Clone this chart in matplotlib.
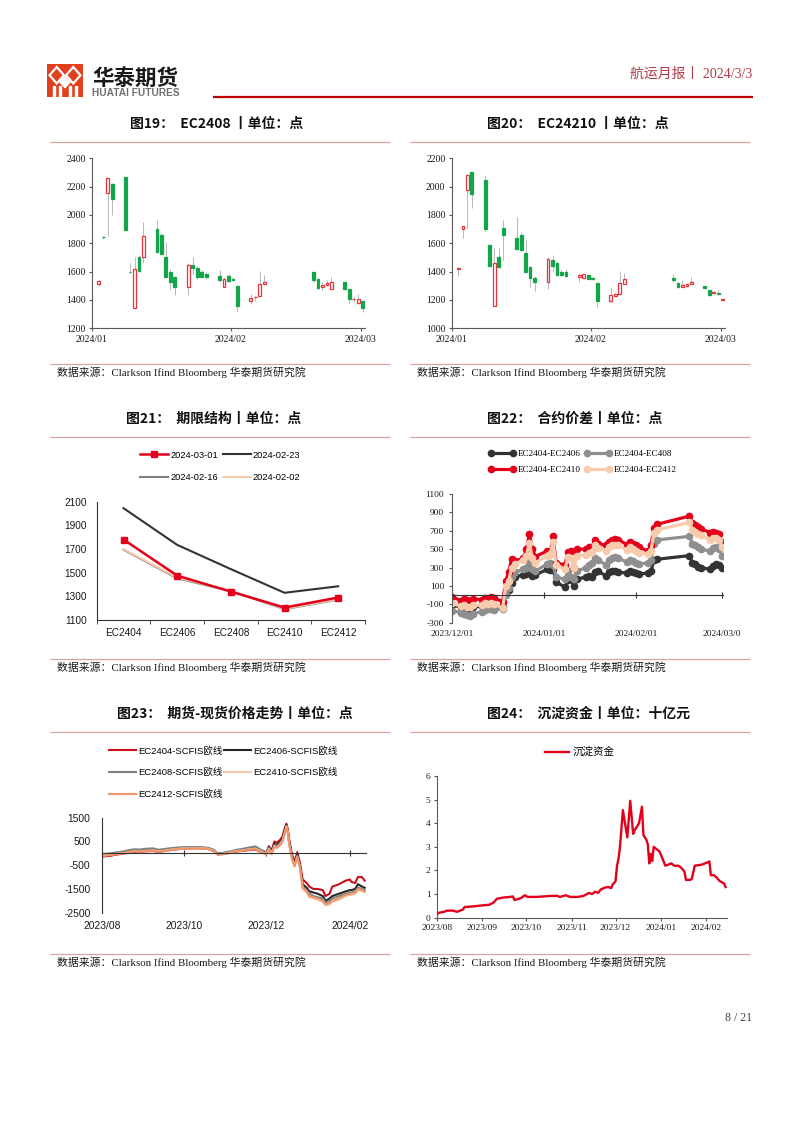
import matplotlib
matplotlib.use('Agg')
import matplotlib.pyplot as plt
import matplotlib.dates as mdates
import numpy as np
import pandas as pd
from matplotlib.patches import Rectangle, Polygon
from matplotlib.lines import Line2D

plt.rcParams['axes.unicode_minus'] = False

# ---------------- DATA ----------------
candle_dates = ['2024-01-02','2024-01-03','2024-01-04','2024-01-05','2024-01-08','2024-01-09','2024-01-10',
                '2024-01-11','2024-01-12','2024-01-15','2024-01-16','2024-01-17','2024-01-18','2024-01-19',
                '2024-01-22','2024-01-23','2024-01-24','2024-01-25','2024-01-26','2024-01-29','2024-01-30',
                '2024-01-31','2024-02-01','2024-02-02','2024-02-05','2024-02-06','2024-02-07','2024-02-08',
                '2024-02-19','2024-02-20','2024-02-21','2024-02-22','2024-02-23','2024-02-26','2024-02-27',
                '2024-02-28','2024-02-29','2024-03-01']
candle_months = ['2024-01-01', '2024-02-01', '2024-03-01']
candle_month_labels = ['2024/01', '2024/02', '2024/03']

ec2408_open = [1510,1847,2155,2220,2265,1600,1345,1705,1700,1900,1858,1700,1595,1560,1490,1645,1628,1600,1585,
               1572,1495,1572,1550,1500,1390,1420,1430,1512,1595,1546,1495,1505,1478,1525,1475,1405,1378,1393]
ec2408_high = [1540,1852,2265,2225,2270,1660,1706,1715,1953,1965,1870,1812,1620,1565,1660,1701,1640,1610,1600,
               1612,1560,1580,1555,1505,1440,1430,1605,1576,1600,1550,1530,1540,1560,1535,1480,1420,1440,1398]
ec2408_low = [1500,1830,1855,2000,1890,1590,1340,1600,1660,1735,1720,1560,1471,1435,1435,1580,1550,1555,1550,
              1530,1490,1530,1535,1318,1370,1390,1425,1505,1530,1480,1470,1500,1475,1470,1370,1385,1370,1318]
ec2408_close = [1535,1843,2258,2115,1895,1595,1616,1608,1850,1737,1722,1565,1530,1495,1648,1625,1560,1565,1562,
                1540,1545,1535,1540,1355,1412,1424,1512,1528,1542,1487,1508,1522,1530,1476,1405,1410,1405,1342]

ec2410_open = [1420,1700,1978,2100,2050,1585,1160,1505,1705,1640,1660,1535,1435,1352,1330,1482,1460,1400,1396,
               1360,1355,1378,1355,1318,1190,1230,1245,1315,1355,1322,1293,1300,1313,1298,1270,1248,1246,1198]
ec2410_high = [1430,1725,2090,2105,2080,1590,1565,1565,1765,1784,1680,1620,1440,1370,1500,1518,1465,1410,1420,
               1390,1385,1385,1360,1320,1294,1250,1405,1388,1385,1325,1340,1320,1360,1300,1272,1258,1270,1206]
ec2410_low = [1370,1640,1706,1847,1680,1435,1155,1425,1480,1555,1545,1395,1294,1260,1280,1400,1370,1370,1360,
              1330,1350,1345,1340,1153,1185,1225,1240,1310,1330,1285,1290,1295,1310,1278,1228,1245,1238,1195]
ec2410_close = [1425,1720,2082,1950,1700,1440,1463,1432,1660,1560,1550,1400,1355,1330,1487,1440,1378,1378,1366,
                1375,1380,1350,1347,1195,1235,1245,1318,1345,1338,1290,1308,1315,1328,1282,1232,1255,1241,1204]

term_contracts = ['EC2404', 'EC2406', 'EC2408', 'EC2410', 'EC2412']
term_0301 = [1780, 1475, 1340, 1205, 1290]
term_0223 = [2045, 1735, 1530, 1330, 1385]
term_0216 = [1695, 1452, 1345, 1192, 1272]
term_0202 = [1700, 1458, 1350, 1195, 1276]

spread_dates = ['2023-12-01','2023-12-04','2023-12-05','2023-12-06','2023-12-07','2023-12-08','2023-12-11',
                '2023-12-12','2023-12-13','2023-12-14','2023-12-15','2023-12-18','2023-12-19','2023-12-20',
                '2023-12-21','2023-12-22','2023-12-25','2023-12-26','2023-12-27','2023-12-28','2023-12-29',
                '2024-01-02','2024-01-03','2024-01-04','2024-01-05','2024-01-08','2024-01-09','2024-01-10',
                '2024-01-11','2024-01-12','2024-01-15','2024-01-16','2024-01-17','2024-01-18','2024-01-19',
                '2024-01-22','2024-01-23','2024-01-24','2024-01-25','2024-01-26','2024-01-29','2024-01-30',
                '2024-01-31','2024-02-01','2024-02-02','2024-02-05','2024-02-06','2024-02-07','2024-02-08',
                '2024-02-19','2024-02-20','2024-02-21','2024-02-22','2024-02-23','2024-02-26','2024-02-27',
                '2024-02-28','2024-02-29','2024-03-01']
spread_2406 = [-110,-130,-120,-140,-150,-130,-120,-110,-120,-100,-110,-130,20,60,130,200,220,230,300,210,220,
               280,270,280,140,90,160,170,100,170,200,210,200,250,260,210,250,260,260,250,240,260,250,
               240,230,240,260,380,390,430,350,340,310,300,280,320,340,330,300]
spread_2408 = [-170,-190,-200,-220,-230,-200,-180,-160,-150,-150,-160,-150,0,80,200,250,280,300,390,280,260,
               340,350,330,200,170,260,200,170,260,300,330,350,400,380,330,380,400,410,400,360,380,370,
               350,340,350,380,560,600,640,560,540,520,500,480,510,520,500,430]
spread_2410 = [-20,-60,-40,-50,-70,-40,-50,-30,-40,-20,-30,-70,150,250,390,370,400,500,670,500,420,
               480,450,640,350,330,470,480,300,500,500,520,510,600,560,540,580,600,610,600,550,580,560,
               540,520,480,540,730,770,860,780,760,740,720,680,690,680,660,580]
spread_2412 = [-90,-120,-110,-130,-130,-110,-110,-90,-100,-90,-100,-140,100,150,300,340,380,430,570,400,350,
               430,450,580,330,280,420,400,290,430,440,460,470,540,510,480,520,540,550,540,490,520,500,
               480,460,450,480,680,710,790,710,690,670,650,600,620,620,600,520]
spread_ticks = ['2023-12-01', '2024-01-01', '2024-02-01', '2024-03-01']
spread_tick_labels = ['2023/12/01', '2024/01/01', '2024/02/01', '2024/03/0']

basis_dates = ['2023-08-01','2023-08-04','2023-08-08','2023-08-11','2023-08-15','2023-08-18','2023-08-22',
               '2023-08-25','2023-08-29','2023-09-01','2023-09-05','2023-09-08','2023-09-12','2023-09-15',
               '2023-09-19','2023-09-22','2023-09-26','2023-09-28','2023-10-09','2023-10-12','2023-10-16',
               '2023-10-19','2023-10-23','2023-10-26','2023-10-30','2023-11-02','2023-11-06','2023-11-09',
               '2023-11-13','2023-11-16','2023-11-20','2023-11-23','2023-11-27','2023-11-30','2023-12-01',
               '2023-12-03','2023-12-05','2023-12-07','2023-12-09','2023-12-11','2023-12-13','2023-12-15',
               '2023-12-16','2023-12-17','2023-12-18','2023-12-20','2023-12-22','2023-12-24','2023-12-26',
               '2023-12-28','2023-12-31','2024-01-02','2024-01-05','2024-01-08','2024-01-12','2024-01-14',
               '2024-01-17','2024-01-19','2024-01-24','2024-01-29','2024-02-01','2024-02-02','2024-02-05',
               '2024-02-07','2024-02-10','2024-02-12']
basis_2404 = [-150,-120,-100,-60,-30,0,30,50,60,
              80,90,100,60,80,120,150,170,190,
              200,210,200,180,100,-50,-30,
              0,30,80,100,120,150,160,60,20,
              0,300,100,500,450,550,700,1100,1250,1000,600,0,-400,50,-400,-1100,-1250,
              -1400,-1500,-1500,-1550,-1800,-1700,-1400,-1300,-1150,
              -1100,-1200,-1250,-1000,-1000,-1150]
basis_2406 = [-100,-60,-40,0,30,60,100,130,120,
              140,150,170,110,130,160,190,210,230,
              240,240,230,210,130,-20,0,
              30,70,120,150,180,220,240,120,50,
              20,250,50,400,350,450,600,1000,1200,950,500,-100,-450,-50,-500,-1300,-1450,
              -1600,-1650,-1700,-1800,-2000,-1900,-1800,-1700,-1600,
              -1550,-1550,-1500,-1300,-1400,-1450]
basis_2408 = [-50,-20,0,30,60,90,140,170,160,
              180,200,210,150,170,200,220,240,250,
              260,260,250,230,150,0,20,
              60,100,150,180,220,260,290,150,80,
              40,230,30,350,300,400,550,950,1100,900,450,-150,-500,-100,-550,-1400,-1550,
              -1700,-1800,-1850,-1900,-2100,-2000,-1900,-1800,-1700,
              -1650,-1650,-1600,-1450,-1500,-1550]
basis_2410 = [-100,-80,-60,-30,0,20,60,90,80,
              100,120,130,80,100,130,160,180,200,
              210,220,210,190,110,-40,-20,
              10,50,100,120,150,180,200,80,0,
              -30,180,-20,300,250,350,500,900,1150,900,420,-200,-550,-150,-600,-1500,-1650,
              -1850,-1900,-1950,-2050,-2200,-2150,-2050,-1950,-1800,
              -1750,-1750,-1700,-1550,-1600,-1650]
basis_2412 = [-120,-90,-70,-40,-10,10,50,80,70,
              90,100,120,70,90,120,150,170,190,
              200,210,200,180,100,-50,-30,
              0,40,90,110,140,170,190,60,-20,
              -50,160,-40,280,230,330,480,880,1100,880,400,-200,-550,-150,-600,-1450,-1600,
              -1800,-1850,-1900,-2000,-2150,-2100,-2000,-1900,-1750,
              -1700,-1700,-1650,-1500,-1550,-1600]
basis_ticks = ['2023-08-01', '2023-10-01', '2023-12-01', '2024-02-01']
basis_tick_labels = ['2023/08', '2023/10', '2023/12', '2024/02']

fund_dates = ['2023-08-01','2023-08-02','2023-08-06','2023-08-08','2023-08-12','2023-08-15','2023-08-17',
              '2023-08-19','2023-08-20','2023-08-26','2023-08-29','2023-09-01','2023-09-06','2023-09-09',
              '2023-09-11','2023-09-15','2023-09-20','2023-09-22','2023-09-23','2023-09-26','2023-09-28',
              '2023-09-30','2023-10-02','2023-10-08','2023-10-13','2023-10-17','2023-10-22','2023-10-24',
              '2023-10-28','2023-10-31','2023-11-05','2023-11-09','2023-11-13','2023-11-15','2023-11-17',
              '2023-11-19','2023-11-21','2023-11-24','2023-11-26','2023-11-28','2023-11-29','2023-12-01',
              '2023-12-02','2023-12-03','2023-12-04','2023-12-06','2023-12-09','2023-12-11','2023-12-13',
              '2023-12-14','2023-12-17','2023-12-19','2023-12-20','2023-12-22','2023-12-23','2023-12-24',
              '2023-12-25','2023-12-26','2023-12-27','2023-12-29','2023-12-31','2024-01-02','2024-01-04',
              '2024-01-08','2024-01-10','2024-01-13','2024-01-15','2024-01-17','2024-01-18','2024-01-21',
              '2024-01-22','2024-01-24','2024-01-29','2024-02-02','2024-02-03','2024-02-04','2024-02-06',
              '2024-02-08','2024-02-10','2024-02-13','2024-02-14']
fund_values = [0.10,0.20,0.25,0.30,0.30,0.25,0.30,0.35,0.45,0.48,0.50,0.52,0.55,0.65,0.80,0.85,0.88,0.90,0.75,
               0.80,0.85,0.95,0.88,0.88,0.90,0.92,0.93,0.88,0.95,0.88,0.88,0.92,1.05,1.00,1.10,1.05,1.20,1.28,
               1.30,1.25,1.40,1.55,2.20,2.50,3.00,4.55,3.40,4.95,3.55,3.70,4.00,4.70,3.50,3.30,3.10,2.30,2.70,
               2.40,3.00,2.90,2.80,2.50,2.20,2.30,2.20,2.20,2.10,1.95,1.60,1.60,1.65,2.20,2.25,2.35,2.38,1.80,
               1.80,1.70,1.55,1.45,1.30]
fund_ticks = ['2023-08-01','2023-09-01','2023-10-01','2023-11-01','2023-12-01','2024-01-01','2024-02-01']
fund_tick_labels = ['2023/08','2023/09','2023/10','2023/11','2023/12','2024/01','2024/02']

titles = ['图19：  EC2408 丨单位：点', '图20：  EC24210 丨单位：点', '图21：  期限结构丨单位：点',
          '图22：  合约价差丨单位：点', '图23：  期货-现货价格走势丨单位：点', '图24：  沉淀资金丨单位：十亿元']
source_text = '数据来源：Clarkson Ifind Bloomberg 华泰期货研究院'

# ---------------- FIGURE ----------------
W, H = 802, 1133
fig = plt.figure(figsize=(W / 100, H / 100), dpi=100)
fig.patch.set_facecolor('white')

SERIF = ['Liberation Serif', 'Noto Sans CJK SC']
SANS = ['Liberation Sans', 'Noto Sans CJK SC']
CJK = ['Noto Sans CJK SC', 'DejaVu Sans']
RED_C = '#e8323c'
GREEN_C = '#13a54a'
AX_C = '#595959'


def fy(y):
    return 1 - y / H


def axes_px(x0, y0, x1, y1):
    return fig.add_axes([x0 / W, 1 - y1 / H, (x1 - x0) / W, (y1 - y0) / H])


def hline(x0, x1, y, color, lw):
    fig.add_artist(Line2D([x0 / W, x1 / W], [fy(y), fy(y)], color=color, lw=lw, solid_capstyle='butt'))


def base_style(ax):
    for s in ['top', 'right']:
        ax.spines[s].set_visible(False)
    for s in ['left', 'bottom']:
        ax.spines[s].set_color(AX_C)
        ax.spines[s].set_linewidth(0.8)
    ax.tick_params(color=AX_C, width=0.8, labelcolor='#1a1a1a')
    ax.set_facecolor('none')


def to_num(dates):
    return mdates.date2num(pd.to_datetime(dates))


# ---------------- HEADER ----------------
logo = fig.add_axes([47 / W, fy(97), 36 / W, 33 / H])
logo.set_xlim(0, 1)
logo.set_ylim(0, 1)
logo.axis('off')
logo.add_patch(Rectangle((0, 0), 1, 1, color='#e2401c'))
for cx, cy in [(0.27, 0.66), (0.73, 0.66)]:
    logo.add_patch(Polygon([[cx, cy + 0.25], [cx + 0.2, cy], [cx, cy - 0.25], [cx - 0.2, cy]],
                           closed=True, facecolor='none', edgecolor='white', lw=1.6))
logo.add_patch(Polygon([[0.5, 0.62], [0.64, 0.45], [0.5, 0.28], [0.36, 0.45]], closed=True,
                       facecolor='white', edgecolor='white', lw=1))
for bx in [0.2, 0.35, 0.65, 0.8]:
    logo.add_patch(Rectangle((bx - 0.03, 0.0), 0.06, 0.33, color='white'))

fig.text(92 / W, fy(78), '华泰期货', family=CJK, weight='bold', fontsize=15.5, va='center', ha='left',
         color='#1a1a1a')
fig.text(92 / W, fy(93.5), 'HUATAI FUTURES', family=['Liberation Sans'], weight='bold', fontsize=7.3,
         va='center', ha='left', color='#707070')
fig.text(752 / W, fy(74), '航运月报丨 2024/3/3', family=SERIF, fontsize=10, va='center', ha='right',
         color='#b23a48')
hline(213, 753, 97, '#c00000', 1.6)
fig.text(752 / W, fy(1018), '8 / 21', family=SERIF, fontsize=8.5, va='center', ha='right', color='#404040')

# titles, rules and sources
title_pos = [(130, 124), (487, 124), (126, 419), (487, 419), (117, 714), (487, 714)]
for t, (x, y) in zip(titles, title_pos):
    fig.text(x / W, fy(y), t, family=CJK, weight='bold', fontsize=10, va='center', ha='left', color='#111111')
for row in range(3):
    dy = row * 295
    for x0, x1 in [(50, 390), (410, 750)]:
        hline(x0, x1, 142 + dy, '#d9a3a3', 0.9)
        hline(x0, x1, 364 + dy, '#d9a3a3', 0.9)
    for xs in [57, 417]:
        fig.text(xs / W, fy(372 + dy), source_text, family=SERIF, fontsize=7.8, va='center', ha='left',
                 color='#1a1a1a')


# ---------------- CANDLES ----------------
def candles(ax, o, h, l, c, ymin, ymax):
    x = to_num(candle_dates)
    o, h, l, c = map(np.asarray, (o, h, l, c))
    up = c >= o
    ax.vlines(x, l, h, color='#b8b8b8', lw=0.7, zorder=1)
    bottoms = np.minimum(o, c)
    heights = np.abs(c - o)
    ax.bar(x[up], heights[up], bottom=bottoms[up], width=0.62, facecolor='white', edgecolor=RED_C,
           lw=0.9, zorder=2)
    ax.bar(x[~up], heights[~up], bottom=bottoms[~up], width=0.62, facecolor=GREEN_C, edgecolor=GREEN_C,
           lw=0.9, zorder=2)
    base_style(ax)
    mn = to_num(candle_months)
    ax.set_xlim(mn[0] - 0.5, mn[-1] + 0.5)
    ax.set_xticks(mn - 0.5)
    ax.set_xticklabels(candle_month_labels)
    ax.set_ylim(ymin, ymax)
    ax.set_yticks(np.arange(ymin, ymax + 1, 200))
    ax.tick_params(axis='both', labelsize=7.0, labelfontfamily='Liberation Serif', length=2.5, pad=2)


ax19 = axes_px(92, 158.3, 365, 328.3)
candles(ax19, ec2408_open, ec2408_high, ec2408_low, ec2408_close, 1200, 2400)
ax20 = axes_px(451.7, 158.3, 725, 328.3)
candles(ax20, ec2410_open, ec2410_high, ec2410_low, ec2410_close, 1000, 2200)

# ---------------- TERM STRUCTURE ----------------
ax21 = axes_px(96.7, 501.7, 365, 620)
xs = np.arange(len(term_contracts))
l2 = ax21.plot(xs, term_0223, color='#333333', lw=1.5, label='2024-02-23')[0]
l3 = ax21.plot(xs, term_0216, color='#7f7f7f', lw=1.5, label='2024-02-16')[0]
l4 = ax21.plot(xs, term_0202, color='#f8cbad', lw=1.5, label='2024-02-02')[0]
l1 = ax21.plot(xs, term_0301, color='#e3001b', lw=1.8, marker='s', ms=5, label='2024-03-01')[0]
base_style(ax21)
ax21.spines['left'].set_color('#333333')
ax21.spines['bottom'].set_color('#333333')
ax21.set_xlim(-0.5, len(term_contracts) - 0.5)
ax21.set_ylim(1100, 2100)
ax21.set_yticks(np.arange(1100, 2101, 200))
ax21.set_xticks(xs)
ax21.set_xticklabels(term_contracts)
ax21.set_xticks(np.arange(-0.5, len(term_contracts)), minor=True)
ax21.tick_params(axis='x', which='major', length=0, pad=5.5)
ax21.tick_params(axis='x', which='minor', length=3, color='#333333')
ax21.tick_params(axis='y', length=0, pad=7)
ax21.tick_params(axis='both', labelsize=7.2, labelfontfamily='Liberation Sans')
ax21.legend([l1, l3, l2, l4], [h.get_label() for h in [l1, l3, l2, l4]], ncol=2, loc='upper left',
            bbox_to_anchor=(140 / W, fy(450.5)), bbox_transform=fig.transFigure, frameon=False,
            prop={'family': 'Liberation Sans', 'size': 6.7}, handlelength=3.0, handletextpad=0.25,
            columnspacing=0.5, labelspacing=1.45, borderpad=0, borderaxespad=0, numpoints=1)

# ---------------- SPREADS ----------------
ax22 = axes_px(451.7, 494, 723, 622.7)
sx = to_num(spread_dates)
sp = []
for vals, col, lab in [(spread_2406, '#333333', 'EC2404-EC2406'), (spread_2408, '#8f8f8f', 'EC2404-EC408'),
                       (spread_2410, '#e3001b', 'EC2404-EC2410'), (spread_2412, '#f8cbad', 'EC2404-EC2412')]:
    sp.append(ax22.plot(sx, vals, color=col, lw=2.3, marker='o', ms=4.5, label=lab)[0])
base_style(ax22)
ax22.spines['bottom'].set_position(('data', 0))
ax22.spines['bottom'].set_color('#333333')
ax22.set_ylim(-300, 1100)
ax22.set_yticks(np.arange(-300, 1101, 200))
st = to_num(spread_ticks)
ax22.set_xlim(st[0] - 0.2, st[-1] + 0.3)
ax22.set_xticks(st)
ax22.tick_params(axis='x', labelbottom=False, direction='inout', length=4, color='#333333')
ax22.tick_params(axis='y', length=2.5, pad=3, labelsize=6.8, labelfontfamily='Liberation Serif')
sec22 = ax22.secondary_xaxis('bottom')
sec22.set_xticks(st)
sec22.set_xticklabels(spread_tick_labels)
sec22.spines['bottom'].set_visible(False)
sec22.tick_params(length=0, pad=5, labelsize=6.8, labelfontfamily='Liberation Serif', labelcolor='#1a1a1a')
ax22.legend([sp[0], sp[2], sp[1], sp[3]], [h.get_label() for h in [sp[0], sp[2], sp[1], sp[3]]], ncol=2,
            loc='upper left', bbox_to_anchor=(488 / W, fy(450)), bbox_transform=fig.transFigure,
            frameon=False, prop={'family': 'Liberation Serif', 'size': 6.6}, handlelength=3.0,
            handletextpad=0.25, columnspacing=0.35, labelspacing=0.8, borderpad=0, borderaxespad=0,
            numpoints=2)

# ---------------- FUTURES - SCFIS ----------------
ax23 = axes_px(101.7, 817.7, 366, 912.7)
bx = to_num(basis_dates)
bl = []
for vals, col, lab in [(basis_2404, '#c8101e', 'EC2404-SCFIS欧线'), (basis_2406, '#262626', 'EC2406-SCFIS欧线'),
                       (basis_2408, '#808080', 'EC2408-SCFIS欧线'), (basis_2410, '#f8cbad', 'EC2410-SCFIS欧线'),
                       (basis_2412, '#f0956a', 'EC2412-SCFIS欧线')]:
    bl.append(ax23.plot(bx, vals, color=col, lw=1.5, label=lab)[0])
base_style(ax23)
ax23.spines['bottom'].set_position(('data', 0))
ax23.spines['bottom'].set_color('#333333')
ax23.spines['left'].set_color('#333333')
ax23.set_ylim(-2500, 1500)
ax23.set_yticks(np.arange(-2500, 1501, 1000))
bt = to_num(basis_ticks)
ax23.set_xlim(bt[0], to_num(['2024-02-13'])[0])
ax23.set_xticks(bt)
ax23.tick_params(axis='x', labelbottom=False, direction='inout', length=4, color='#333333')
ax23.tick_params(axis='y', length=0, pad=8, labelsize=7.4, labelfontfamily='Liberation Sans')
sec23 = ax23.secondary_xaxis('bottom')
sec23.set_xticks(bt)
sec23.set_xticklabels(basis_tick_labels)
sec23.spines['bottom'].set_visible(False)
sec23.tick_params(length=0, pad=6, labelsize=7.4, labelfontfamily='Liberation Sans', labelcolor='#1a1a1a')
leg_order = [bl[0], bl[2], bl[4], bl[1], bl[3]]
ax23.legend(leg_order, [h.get_label() for h in leg_order], ncol=2, loc='upper left',
            bbox_to_anchor=(109 / W, fy(746)), bbox_transform=fig.transFigure, frameon=False,
            prop={'family': SANS, 'size': 6.8}, handlelength=2.85, handletextpad=0.25, columnspacing=0.1,
            labelspacing=1.3, borderpad=0, borderaxespad=0)

# ---------------- SETTLED FUNDS ----------------
ax24 = axes_px(436.7, 776, 727, 917.7)
fl = ax24.plot(to_num(fund_dates), fund_values, color='#e3001b', lw=1.7, label='沉淀资金')[0]
base_style(ax24)
ax24.set_ylim(0, 6)
ax24.set_yticks(np.arange(0, 7, 1))
ft = to_num(fund_ticks)
ax24.set_xlim(ft[0], to_num(['2024-02-15'])[0])
ax24.set_xticks(ft)
ax24.set_xticklabels(fund_tick_labels)
ax24.tick_params(axis='both', length=2.5, pad=2, labelsize=6.8, labelfontfamily='Liberation Serif')
ax24.legend([fl], ['沉淀资金'], loc='center left', bbox_to_anchor=(545 / W, fy(752)),
            bbox_transform=fig.transFigure, frameon=False, prop={'family': CJK, 'size': 7.6},
            handlelength=2.3, handletextpad=0.3, borderpad=0, borderaxespad=0)

fig.savefig('out.png', dpi=100, facecolor='white')
